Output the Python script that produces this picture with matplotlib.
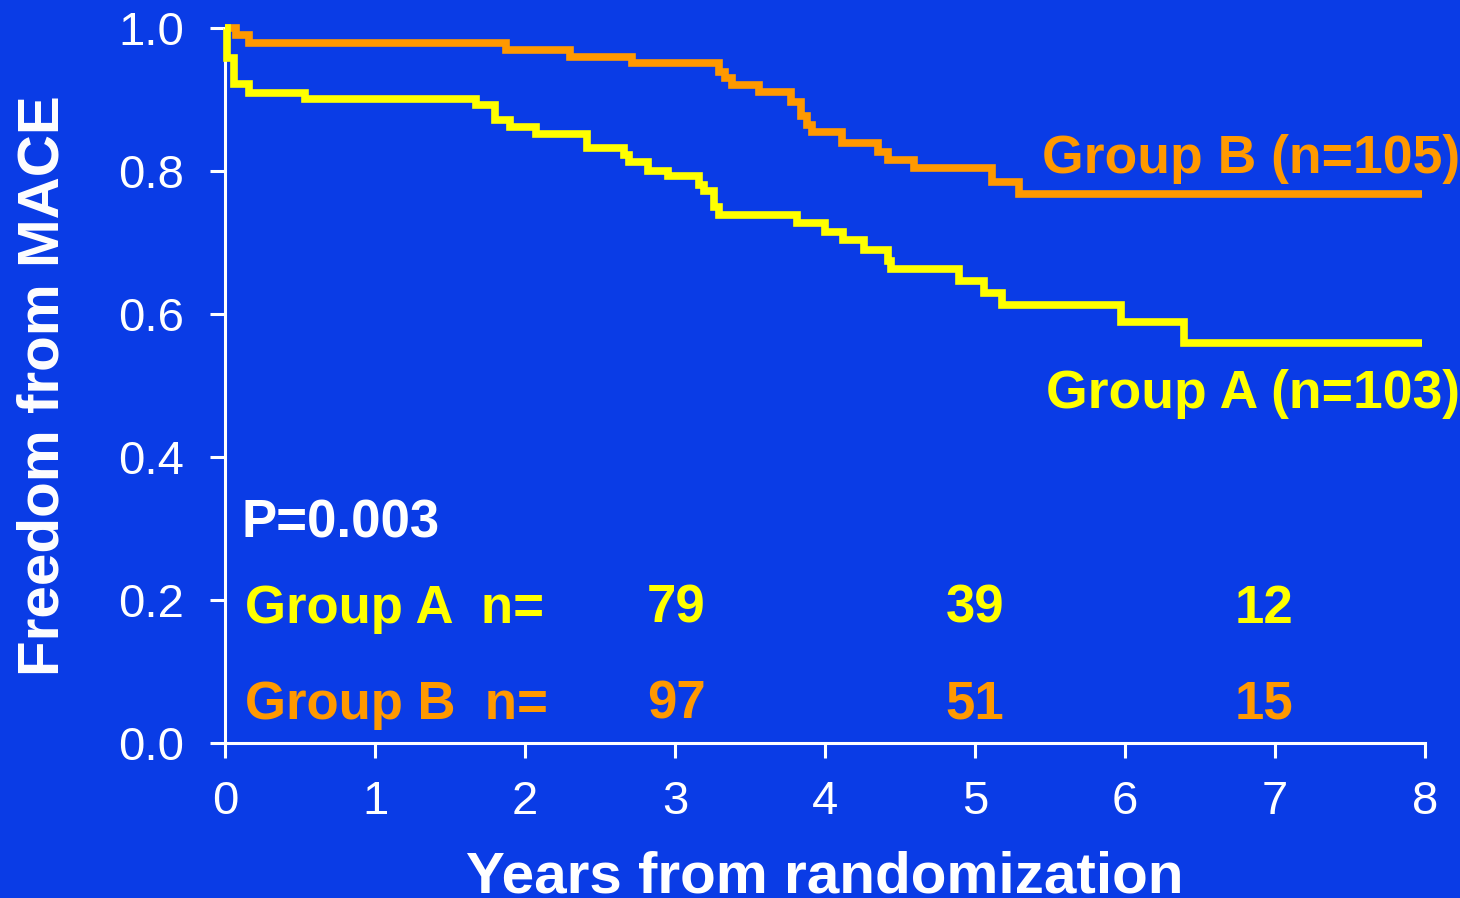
import matplotlib
matplotlib.use("Agg")
import matplotlib.pyplot as plt

# ---------------- data ----------------
years_A = [0.0, 0.01, 0.06, 0.16, 0.53, 1.67, 1.80, 1.90, 2.07, 2.41, 2.66, 2.69,
           2.82, 2.95, 3.16, 3.19, 3.26, 3.29, 3.81, 4.00, 4.12, 4.26, 4.42, 4.44,
           4.89, 5.06, 5.18, 5.97, 6.39, 7.98]
surv_A = [1.0, 0.958, 0.921, 0.909, 0.901, 0.893, 0.871, 0.861, 0.852, 0.832, 0.823, 0.813,
          0.800, 0.793, 0.780, 0.772, 0.750, 0.738, 0.727, 0.714, 0.703, 0.690, 0.674, 0.663,
          0.646, 0.629, 0.612, 0.589, 0.560, 0.560]

years_B = [0.0, 0.07, 0.16, 1.87, 2.30, 2.71, 3.29, 3.33, 3.38, 3.56, 3.77, 3.84,
           3.88, 3.91, 4.11, 4.35, 4.42, 4.59, 5.11, 5.29, 7.98]
surv_B = [1.0, 0.990, 0.979, 0.969, 0.959, 0.951, 0.939, 0.930, 0.920, 0.910, 0.897, 0.877,
          0.864, 0.855, 0.839, 0.827, 0.815, 0.804, 0.784, 0.768, 0.768]

risk_years = [3, 5, 7]
risk_A = [79, 39, 12]
risk_B = [97, 51, 15]

label_A = "Group A (n=103)"
label_B = "Group B (n=105)"
p_text = "P=0.003"
xticks = [0, 1, 2, 3, 4, 5, 6, 7, 8]
yticks = [0.0, 0.2, 0.4, 0.6, 0.8, 1.0]

# ---------------- style ----------------
BG = "#0A3CE6"
YEL = "#FFFF00"
ORA = "#FF9900"
WHITE = "#FFFFFF"
plt.rcParams['font.family'] = ['Liberation Sans', 'DejaVu Sans']

fig = plt.figure(figsize=(14.6, 8.98), dpi=100, facecolor=BG)
ax = fig.add_axes([225 / 1460, (898 - 743) / 898, 1200 / 1460, 715 / 898])
ax.set_facecolor(BG)

ax.step(years_B, surv_B, where="post", color=ORA, lw=5.5, clip_on=False,
        solid_joinstyle="miter", solid_capstyle="butt", zorder=3)
ax.step(years_A, surv_A, where="post", color=YEL, lw=5.5, clip_on=False,
        solid_joinstyle="miter", solid_capstyle="butt", zorder=4)

ax.set_xlim(0, 8)
ax.set_ylim(0, 1)
ax.set_xticks(xticks)
ax.set_xticklabels([str(v) for v in xticks])
ax.set_yticks(yticks)
ax.set_yticklabels([f"{v:.1f}" for v in yticks])

for s in ["top", "right"]:
    ax.spines[s].set_visible(False)
for s in ["left", "bottom"]:
    ax.spines[s].set_color(WHITE)
    ax.spines[s].set_linewidth(2.2)

ax.tick_params(axis="both", colors=WHITE, width=2.2, length=10.5,
               labelsize=34, direction="out")
ax.tick_params(axis="y", pad=19)
ax.tick_params(axis="x", pad=16)

ax.set_xlabel("Years from randomization", color=WHITE, fontsize=42,
              fontweight="bold", labelpad=19)
ax.set_ylabel("Freedom from MACE", color=WHITE, fontsize=42,
              fontweight="bold", labelpad=34)

# annotations
ax.text(5.45, 0.797, label_B, color=ORA, fontsize=38.5, fontweight="bold",
        ha="left", va="baseline", clip_on=False)
ax.text(5.47, 0.4685, label_A, color=YEL, fontsize=38.5, fontweight="bold",
        ha="left", va="baseline", clip_on=False)
ax.text(0.113, 0.288, p_text, color=WHITE, fontsize=38, fontweight="bold",
        ha="left", va="baseline")
ax.text(0.133, 0.168, "Group A  n=", color=YEL, fontsize=38, fontweight="bold",
        ha="left", va="baseline")
ax.text(0.133, 0.0336, "Group B  n=", color=ORA, fontsize=38, fontweight="bold",
        ha="left", va="baseline")

x_shift = {3: 0.01, 5: 0.0, 7: -0.07}
for yr, a, b in zip(risk_years, risk_A, risk_B):
    xp = yr + x_shift[yr]
    ax.text(xp, 0.168, str(a), color=YEL, fontsize=38, fontweight="bold",
            ha="center", va="baseline")
    ax.text(xp, 0.0336, str(b), color=ORA, fontsize=38, fontweight="bold",
            ha="center", va="baseline")

fig.savefig("out.png", dpi=100, facecolor=BG)
